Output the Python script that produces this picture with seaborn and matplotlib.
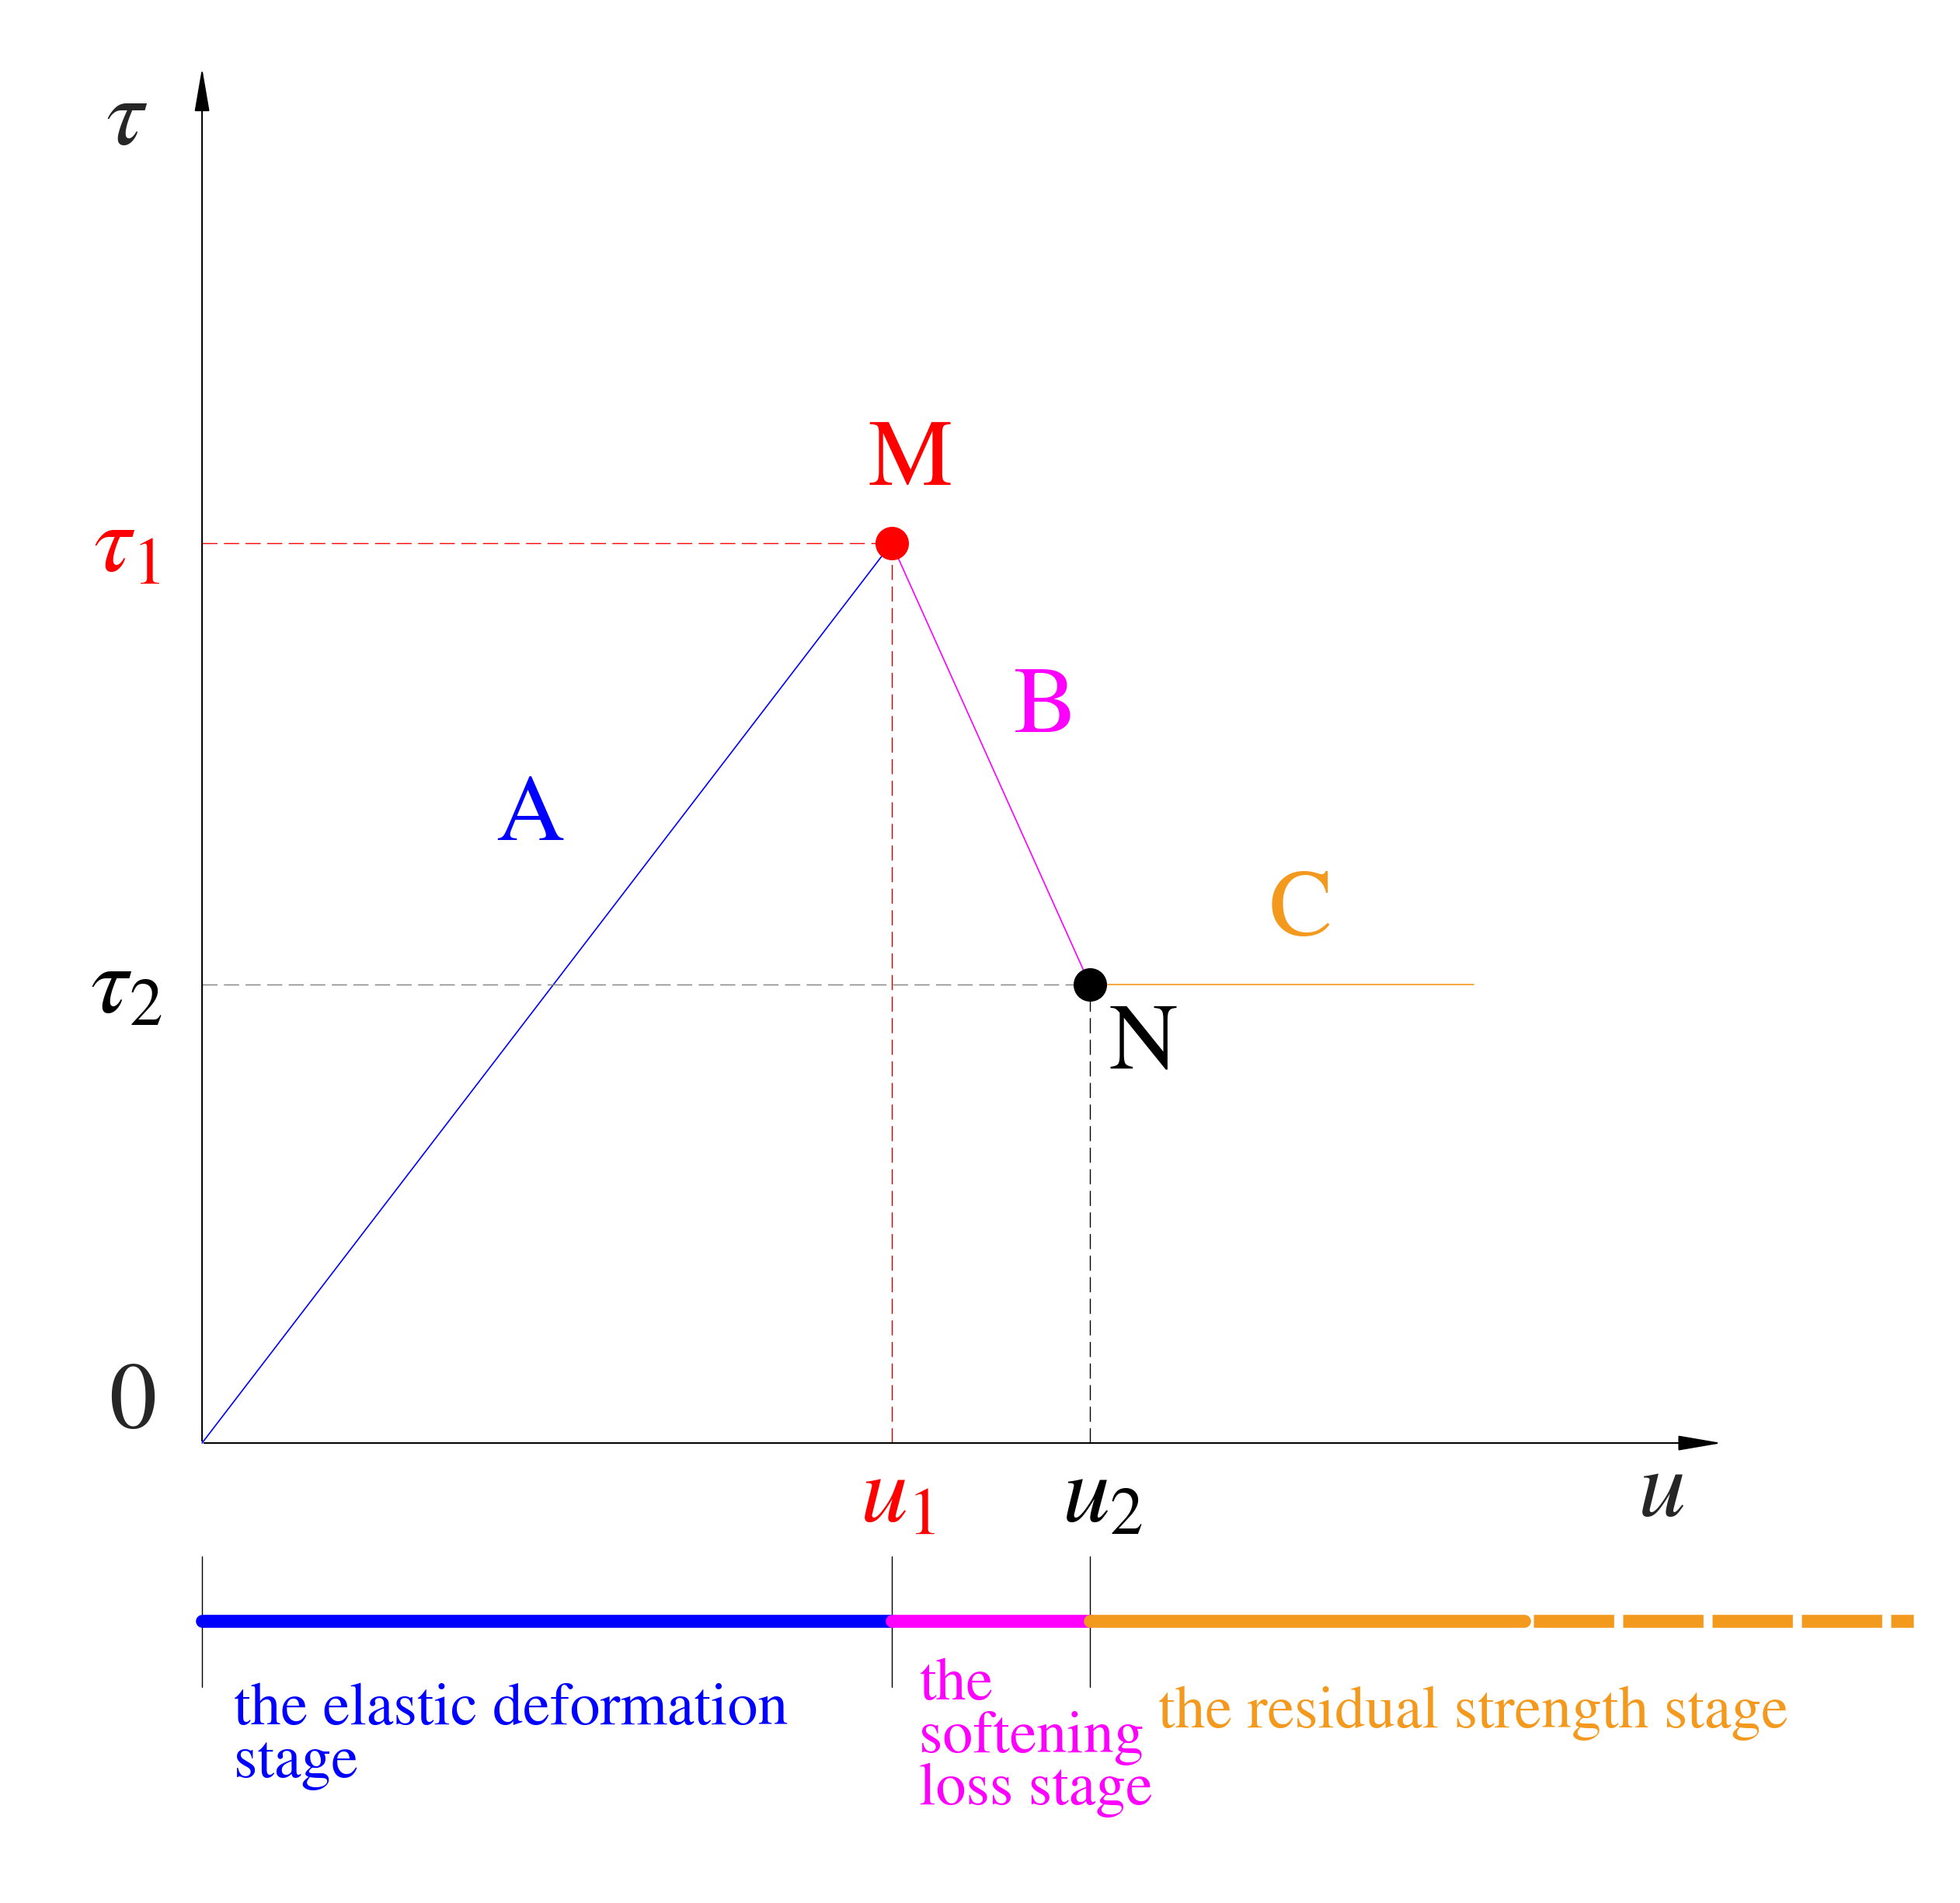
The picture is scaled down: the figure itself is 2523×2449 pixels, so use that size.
import numpy as np
import pandas as pd
import matplotlib
matplotlib.use("Agg")
import matplotlib.pyplot as plt
import seaborn as sns

# key points of the tau-u curve (drawing units, origin at 0)
u_pts = [0, 546, 703, 1007]
tau_pts = [0, 712, 363, 363]
stage_colors = ["#0000ff", "#ff00ff", "#f39a1e"]
stage_labels = ["the elastic deformation\nstage", "the\nsoftening\nloss stage", "the residual strength stage"]
point_names = ["M", "N"]
seg_names = ["A", "B", "C"]

sns.set_style("white")
plt.rcParams["font.family"] = ["STIXGeneral", "DejaVu Serif"]
plt.rcParams["mathtext.fontset"] = "stix"

fig = plt.figure(figsize=(25.23, 24.49), dpi=100)
ax = fig.add_axes([0, 0, 1, 1])
ax.set_xlim(-160, 1392)
ax.set_ylim(-364, 1142)
ax.axis("off")

# curve segments
for i in range(3):
    seg = pd.DataFrame({"u": u_pts[i:i + 2], "tau": tau_pts[i:i + 2]})
    sns.lineplot(data=seg, x="u", y="tau", color=stage_colors[i], lw=1.2, ax=ax, sort=False)

# axes arrows
ax.annotate("", xy=(1205, 0), xytext=(0, 0),
            arrowprops=dict(arrowstyle="-|>,head_length=3.5,head_width=0.6", color="black", lw=1.5))
ax.annotate("", xy=(0, 1090), xytext=(0, 0),
            arrowprops=dict(arrowstyle="-|>,head_length=3.5,head_width=0.6", color="black", lw=1.5))

# dashed guides
dash = (0, (14, 6))
ax.plot([0, u_pts[1]], [tau_pts[1]] * 2, color="red", lw=1, ls=dash)
ax.plot([u_pts[1]] * 2, [0, tau_pts[1]], color="#cc0000", lw=1, ls=dash)
ax.plot([0, u_pts[2]], [tau_pts[2]] * 2, color="gray", lw=1, ls=dash)
ax.plot([u_pts[2]] * 2, [0, tau_pts[2]], color="black", lw=1, ls=dash)

ax.scatter([u_pts[1]], [tau_pts[1]], s=900, color="red", zorder=5)
ax.scatter([u_pts[2]], [tau_pts[2]], s=900, color="black", zorder=5)

fs = 88
ax.text(u_pts[1] + 15, tau_pts[1] + 30, point_names[0], color="red", fontsize=fs, ha="center", va="bottom")
ax.text(u_pts[2] + 15, tau_pts[2] - 15, point_names[1], color="black", fontsize=fs, ha="left", va="top")
ax.text(260, 495, seg_names[0], color=stage_colors[0], fontsize=fs, ha="center", va="center")
ax.text(668, 580, seg_names[1], color=stage_colors[1], fontsize=fs, ha="center", va="center")
ax.text(870, 420, seg_names[2], color=stage_colors[2], fontsize=fs, ha="center", va="center")

ax.text(-55, 30, "0", fontsize=fs, ha="center", va="center")
ax.text(-60, 1045, r"$\tau$", fontsize=fs, ha="center", va="center")
ax.text(-60, tau_pts[1] - 5, r"$\tau_1$", color="red", fontsize=fs, ha="center", va="center")
ax.text(-60, tau_pts[2] - 5, r"$\tau_2$", color="black", fontsize=fs, ha="center", va="center")
ax.text(u_pts[1] + 5, -45, r"$u_1$", color="red", fontsize=fs, ha="center", va="center")
ax.text(u_pts[2] + 10, -45, r"$u_2$", color="black", fontsize=fs, ha="center", va="center")
ax.text(1155, -40, r"$u$", fontsize=fs, ha="center", va="center")

# stage bar
bar_y = -141
for x in [0, u_pts[1], u_pts[2]]:
    ax.plot([x, x], [-90, -193], color="black", lw=1)
ax.plot([u_pts[0], u_pts[1]], [bar_y] * 2, color=stage_colors[0], lw=12, solid_capstyle="round")
ax.plot([u_pts[1], u_pts[2]], [bar_y] * 2, color=stage_colors[1], lw=12)
ax.plot([u_pts[2], 1047], [bar_y] * 2, color=stage_colors[2], lw=12)
ax.plot([1054, 1355], [bar_y] * 2, color=stage_colors[2], lw=12, ls=(0, (6.2, 0.7)), solid_capstyle="round")

bfs = 56
ax.text(25, -190, stage_labels[0], color=stage_colors[0], fontsize=bfs, ha="left", va="top", linespacing=0.95)
ax.text(568, -170, stage_labels[1], color=stage_colors[1], fontsize=bfs, ha="left", va="top", linespacing=0.95)
ax.text(757, -192, stage_labels[2], color=stage_colors[2], fontsize=bfs, ha="left", va="top")

fig.savefig("out.png", dpi=100)
